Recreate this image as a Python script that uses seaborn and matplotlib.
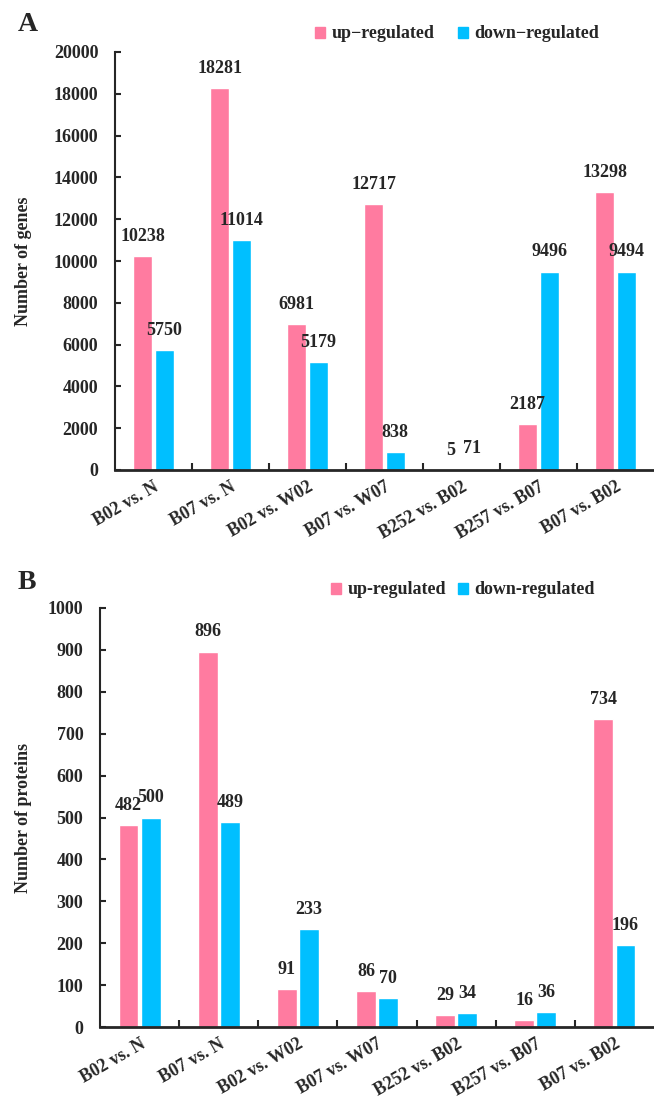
import pandas as pd
import matplotlib
matplotlib.use("Agg")
import matplotlib.pyplot as plt
from matplotlib.patches import Patch
import seaborn as sns

# --- data ---
comparisons = ["B02 vs. N", "B07 vs. N", "B02 vs. W02", "B07 vs. W07",
               "B252 vs. B02", "B257 vs. B07", "B07 vs. B02"]
genes_up = [10238, 18281, 6981, 12717, 5, 2187, 13298]
genes_down = [5750, 11014, 5179, 838, 71, 9496, 9494]
proteins_up = [482, 896, 91, 86, 29, 16, 734]
proteins_down = [500, 489, 233, 70, 34, 36, 196]

PINK = "#FF7BA0"
CYAN = "#00BFFF"
W, H = 654, 1101

sns.set_style("white")
plt.rcParams["font.family"] = ["Liberation Serif", "DejaVu Serif"]
plt.rcParams["font.weight"] = "bold"


def long_table(up, down):
    df_up = pd.DataFrame({"comparison": comparisons, "value": up, "type": "up"})
    df_down = pd.DataFrame({"comparison": comparisons, "value": down, "type": "down"})
    return pd.concat([df_up, df_down], ignore_index=True)


def draw_panel(ax, df, ymax, ystep, ylabel, ylab_x, letter, letter_y, dash,
               leg_xy, colspace):
    sns.barplot(data=df, x="comparison", y="value", hue="type",
                hue_order=["up", "down"], palette=[PINK, CYAN],
                width=0.56, gap=0.1, legend=False, ax=ax, saturation=1)
    for c in ax.containers:
        ax.bar_label(c, fmt="%d", padding=8, fontsize=13, fontweight="bold")
    ax.set_ylim(0, ymax)
    ax.set_yticks(range(0, ymax + 1, ystep))
    ax.set_xlim(-0.5, 6.5)
    ax.set_xlabel("")
    ax.set_ylabel(ylabel, fontsize=13, fontweight="bold")
    ax.yaxis.set_label_coords(ylab_x, 0.5)
    sns.despine(ax=ax)
    ax.spines["left"].set_linewidth(1.5)
    ax.spines["bottom"].set_linewidth(2)
    ax.tick_params(axis="y", direction="in", length=4, width=1.5,
                   labelsize=13, left=True, pad=12)
    ax.set_xticks([i + 0.5 for i in range(6)], minor=True)
    ax.tick_params(axis="x", which="major", length=0, labelsize=13, pad=6)
    ax.tick_params(axis="x", which="minor", direction="in", length=5,
                   width=1.5, bottom=True)
    for lab in ax.get_xticklabels():
        lab.set_rotation(30)
        lab.set_ha("right")
        lab.set_va("top")
        lab.set_rotation_mode("anchor")
        lab.set_fontweight("bold")
    for lab in ax.get_yticklabels():
        lab.set_fontweight("bold")
    handles = [Patch(color=PINK), Patch(color=CYAN)]
    ax.legend(handles, ["up" + dash + "regulated", "down" + dash + "regulated"],
              ncol=2, frameon=False, loc="center left",
              bbox_to_anchor=(leg_xy[0] / W, 1 - leg_xy[1] / H),
              bbox_transform=fig.transFigure, borderaxespad=0, borderpad=0,
              handlelength=0.55, handleheight=0.55, handletextpad=0.35,
              columnspacing=colspace, prop={"size": 13, "weight": "bold"})
    fig.text(18 / W, 1 - letter_y / H, letter, fontsize=20,
             fontweight="bold", va="top", ha="left")


fig = plt.figure(figsize=(6.54, 11.01), dpi=100)
ax_a = fig.add_axes([115 / W, 1 - 470 / H, (W - 115) / W, 418 / H])
ax_b = fig.add_axes([100 / W, 1 - 1027 / H, (W - 100) / W, 419 / H])

draw_panel(ax_a, long_table(genes_up, genes_down), 20000, 2000,
           "Number of genes", -0.154, "A", 12, "\u2212", (315, 34), 1.3)
draw_panel(ax_b, long_table(proteins_up, proteins_down), 1000, 100,
           "Number of proteins", -0.123, "B", 570, "-", (331, 590), 0.7)

fig.savefig("out.png", dpi=100)
